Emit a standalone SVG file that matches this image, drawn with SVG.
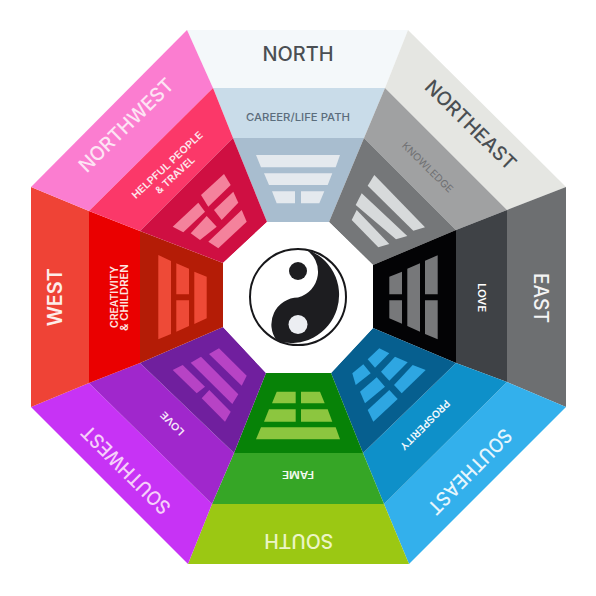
<svg xmlns="http://www.w3.org/2000/svg" width="596" height="596" viewBox="0 0 596 596">
<style>
text{font-family:"Inter","Open Sans","Liberation Sans",sans-serif;text-anchor:middle;font-weight:500}
.big{font-size:19.5px}
.mid{font-size:11px}
.sm{font-size:10px;font-weight:600}
</style>
<rect width="596" height="596" fill="#ffffff"/>
<g id="north">
<polygon points="187,30 408,30 385,88 213,88" fill="#f4f8fa"/>
<polygon points="213,88 385,88 364,138 233,138" fill="#c9dce9"/>
<polygon points="233,138 364,138 329,222 267,222" fill="#a8bdcf"/>
<g fill="#e4e9ee"><polygon points="256,155 340,155 335.7,167.3 261,167.3"/><polygon points="264,173.3 332.3,173.3 327.7,185 269,185"/><polygon points="272,191.3 295,191.3 295,203.3 276.7,203.3"/><polygon points="301,191.3 324.3,191.3 319.3,203.3 301,203.3"/></g>
<text class="big" fill="#4a4f53" textLength="71" lengthAdjust="spacingAndGlyphs" transform="translate(298 53.7)" y="7">NORTH</text>
<text class="mid" fill="#5b6d7c" textLength="104" lengthAdjust="spacingAndGlyphs" transform="translate(298 116.5)" y="4">CAREER/LIFE PATH</text>
</g>
<g id="northeast">
<polygon points="408,30 566,187 507,210 385,88" fill="#e5e6e2"/>
<polygon points="385,88 507,210 456,230 364,138" fill="#a0a1a2"/>
<polygon points="364,138 456,230 373,265 329,222" fill="#757779"/>
<g fill="#d7dadb"><polygon points="374.3,175 425,227.3 413.3,230.7 367.7,185.7"/><polygon points="361.7,193.3 407.3,236 396,239.3 355.7,205"/><polygon points="356.7,210 389.3,244 378.3,247.3 351.7,220"/></g>
<text class="big" fill="#4a4f53" textLength="118.6" lengthAdjust="spacingAndGlyphs" transform="translate(470.8 124.7) rotate(44.5)" y="7">NORTHEAST</text>
<text class="sm" style="font-weight:400" fill="#6f7072" textLength="67" lengthAdjust="spacingAndGlyphs" transform="translate(427.5 167.3) rotate(44.5)" y="3.5">KNOWLEDGE</text>
</g>
<g id="east">
<polygon points="566,187 566,407 507,382 507,210" fill="#6d6f71"/>
<polygon points="507,210 507,382 456,363 456,230" fill="#3f4246"/>
<polygon points="456,230 456,363 373,328 373,265" fill="#030305"/>
<g fill="#77787a"><polygon points="425,260.7 437.7,255.3 437.7,294.3 425,294.3"/><polygon points="425,300.3 437.7,300.3 437.7,339.3 425,334"/><polygon points="407.3,268.7 420,263.3 420,331.7 407.3,326"/><polygon points="389.3,276.7 402,271.7 402,294.3 389.3,294.3"/><polygon points="389.3,300.3 402,300.3 402,323.7 389.3,318.3"/></g>
<text class="big" fill="#f4f4f4" textLength="50" lengthAdjust="spacingAndGlyphs" transform="translate(541 298) rotate(90)" y="7">EAST</text>
<text class="sm" fill="#ffffff" textLength="29" lengthAdjust="spacingAndGlyphs" transform="translate(481.3 297.7) rotate(90)" y="3.6">LOVE</text>
</g>
<g id="southeast">
<polygon points="566,407 409,564 384,504 507,382" fill="#33b0ec"/>
<polygon points="507,382 384,504 363,453 456,363" fill="#0e90c9"/>
<polygon points="456,363 363,453 331,373 373,328" fill="#065f8f"/>
<g fill="#2ea6e2"><polygon points="379.3,348.3 389.3,353.3 375,367.7 367.7,359.3"/><polygon points="363.3,364.3 370.7,373.3 355.7,385 352.3,373.3"/><polygon points="395,356.7 407.7,362.3 389.3,380.7 381,371.7"/><polygon points="376.7,377.3 385,386.7 365,403.3 360,391.7"/><polygon points="412.7,365 425.7,370 401.7,393.3 394,385"/><polygon points="389.3,390 397.7,399 373.3,421.7 367.7,410"/></g>
<text class="big" fill="#e6f6fd" textLength="110.8" lengthAdjust="spacingAndGlyphs" transform="translate(470 471.7) rotate(134.5)" y="7">SOUTHEAST</text>
<text class="sm" fill="#f2fafe" textLength="66" lengthAdjust="spacingAndGlyphs" transform="translate(425 425) rotate(135)" y="3.5">PROSPERITY</text>
</g>
<g id="south">
<polygon points="409,564 188,564 212,504 384,504" fill="#9bc813"/>
<polygon points="384,504 212,504 234,453 363,453" fill="#36a626"/>
<polygon points="363,453 234,453 266,373 331,373" fill="#078207"/>
<g fill="#8cc63f"><polygon points="261,427.3 335.7,427.3 340,439.3 256,439.3"/><polygon points="269,409.3 295.7,409.3 295.7,421.7 264,421.7"/><polygon points="301,409.3 327.7,409.3 332.3,421.7 301,421.7"/><polygon points="276.7,391.7 295.7,391.7 295.7,403.3 272,403.3"/><polygon points="301,391.7 320,391.7 324.7,403.3 301,403.3"/></g>
<text class="big" fill="#ecf5c6" textLength="69" lengthAdjust="spacingAndGlyphs" transform="translate(298.7 541) rotate(180)" y="7">SOUTH</text>
<text class="sm" fill="#f2f9ee" textLength="32" lengthAdjust="spacingAndGlyphs" transform="translate(298 474.7) rotate(180)" y="3.6">FAME</text>
</g>
<g id="southwest">
<polygon points="188,564 31,407 89,383 212,504" fill="#c733f5"/>
<polygon points="212,504 89,383 140,363 234,453" fill="#a027cc"/>
<polygon points="234,453 140,363 223,327 266,373" fill="#701f9e"/>
<g fill="#b743c5"><polygon points="219,348.3 246.7,375.7 241.7,385.7 209,354"/><polygon points="201,356.7 238.3,394.3 232.3,404 190.7,362.7"/><polygon points="182.7,365 205,386.7 196.7,393.3 172.7,370"/><polygon points="209.3,390 230.7,411.7 225,421.7 201.7,398.3"/></g>
<text class="big" fill="#f6d0fa" textLength="116.7" lengthAdjust="spacingAndGlyphs" transform="translate(125.7 470) rotate(-135)" y="7">SOUTHWEST</text>
<text class="sm" fill="#f6e6fa" textLength="29" lengthAdjust="spacingAndGlyphs" transform="translate(172.3 423.3) rotate(-135)" y="3.3">LOVE</text>
</g>
<g id="west">
<polygon points="31,407 31,187 89,211 89,383" fill="#ef4336"/>
<polygon points="89,383 89,211 140,231 140,363" fill="#ea0000"/>
<polygon points="140,363 140,231 223,263 223,327" fill="#b41c06"/>
<g fill="#ee4a37"><polygon points="158.3,255 171,261 171,334 158.3,339.3"/><polygon points="176.3,263.3 189,268.7 189,294.3 176.3,294.3"/><polygon points="176.3,300.3 189,300.3 189,326 176.3,331.7"/><polygon points="194.3,271.7 206.7,276.7 206.7,318.3 194.3,324"/></g>
<text class="big" style="font-weight:600" fill="#fdeeea" textLength="58" lengthAdjust="spacingAndGlyphs" transform="translate(55.3 297.3) rotate(-90)" y="7">WEST</text>
<text class="sm" fill="#fde6e0" textLength="62" lengthAdjust="spacingAndGlyphs" transform="translate(114 297) rotate(-90)" y="3.6">CREATIVITY</text>
<text class="sm" fill="#fde6e0" textLength="66.7" lengthAdjust="spacingAndGlyphs" transform="translate(124.3 297.7) rotate(-90)" y="3.6">&amp; CHILDREN</text>
</g>
<g id="northwest">
<polygon points="31,187 187,30 213,88 89,211" fill="#fb7dd0"/>
<polygon points="89,211 213,88 233,138 140,231" fill="#fb3869"/>
<polygon points="140,231 233,138 267,222 223,263" fill="#cf0f42"/>
<g fill="#f4829c"><polygon points="224,174 230.7,185 208.3,206.7 201,195"/><polygon points="198.3,202.7 205,211.7 183.3,232.3 172.7,226.7"/><polygon points="233.3,191.7 238.3,202.7 221.7,220 214,210"/><polygon points="206.7,216 216.7,226.7 200,240 190.7,233.3"/><polygon points="241.7,210 246.7,221.7 218.3,248.3 208.3,241.7"/></g>
<text class="big" fill="#fde4f4" textLength="124" lengthAdjust="spacingAndGlyphs" transform="translate(126 125) rotate(-44.5)" y="7">NORTHWEST</text>
<text class="sm" fill="#fde6ec" textLength="93" lengthAdjust="spacingAndGlyphs" transform="translate(167.3 165) rotate(-43)" y="3.5">HELPFUL PEOPLE</text>
<text class="sm" fill="#fde6ec" textLength="49.5" lengthAdjust="spacingAndGlyphs" transform="translate(175 175) rotate(-43)" y="3.5">&amp; TRAVEL</text>
</g>
<g id="center">
<polygon points="267,222 329,222 373,265 373,328 331,373 266,373 223,327 223,263" fill="#ffffff"/>
<circle cx="298" cy="297" r="48" fill="#ffffff" stroke="#17171a" stroke-width="2"/>
<path d="M305 249A48 48 0 0 1 277 341A27 27 0 0 1 298 297.5A26.5 26.5 0 0 0 305 249Z" fill="#1d1d20"/>
<circle cx="298" cy="271" r="9" fill="#1d1d20"/>
<circle cx="298" cy="324.5" r="9.5" fill="#eceef2"/>
</g>
</svg>
